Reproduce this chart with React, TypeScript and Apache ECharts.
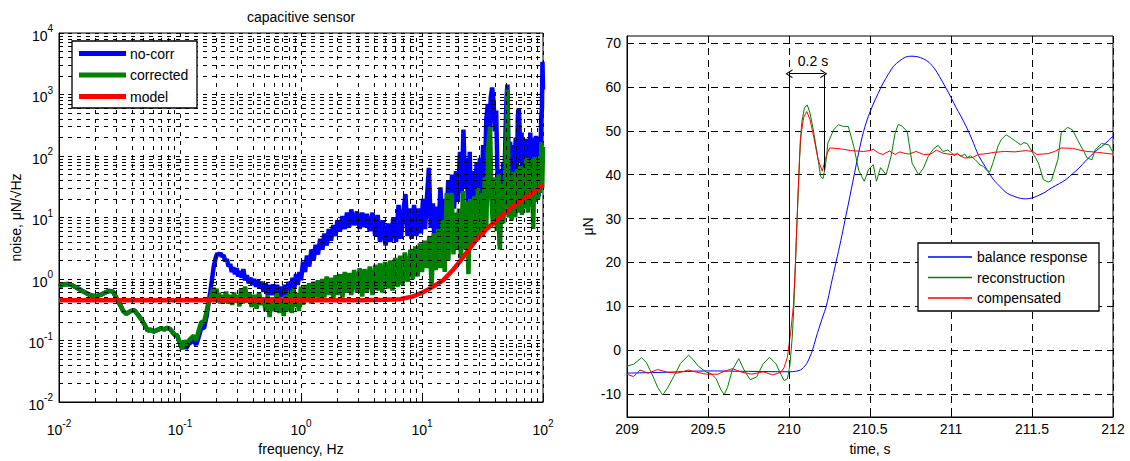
import React, { useEffect, useRef } from 'react';
import * as echarts from 'echarts';

const FONT = '"Liberation Sans", Arial, Helvetica, sans-serif';

// ---------------- Left chart: capacitive sensor noise spectrum ----------------
const leftTitle = 'capacitive sensor';
const leftSeriesNames = ['no-corr', 'corrected', 'model'];

// [frequency (Hz), noise (µN/√Hz)]
const noCorrData: [number, number][] = [
  [0.01, 0.76], [0.011, 0.82], [0.012, 0.83], [0.013, 0.78], [0.014, 0.72], [0.016, 0.62], [0.018, 0.55],
  [0.02, 0.52], [0.022, 0.55], [0.024, 0.6], [0.026, 0.64], [0.028, 0.62], [0.03, 0.48], [0.032, 0.38],
  [0.034, 0.3], [0.036, 0.27], [0.039, 0.3], [0.042, 0.31], [0.045, 0.26], [0.048, 0.22], [0.051, 0.18],
  [0.054, 0.145], [0.057, 0.15], [0.06, 0.14], [0.063, 0.145], [0.066, 0.15], [0.07, 0.16], [0.074, 0.15],
  [0.078, 0.16], [0.082, 0.155], [0.086, 0.14], [0.09, 0.125], [0.095, 0.12],
  [0.1, 0.088], [0.104, 0.075], [0.108, 0.092], [0.112, 0.074], [0.118, 0.088], [0.124, 0.095], [0.13, 0.1],
  [0.136, 0.085], [0.142, 0.11], [0.15, 0.16], [0.158, 0.16], [0.166, 0.25], [0.172, 0.4], [0.178, 0.62],
  [0.184, 1.0], [0.19, 1.6], [0.197, 2.2], [0.203, 2.6], [0.21, 2.45], [0.216, 2.65], [0.222, 2.3],
  [0.229, 2.45], [0.236, 1.95], [0.244, 2.1], [0.252, 1.6], [0.26, 1.75], [0.268, 1.3], [0.276, 1.55],
  [0.285, 1.2], [0.294, 1.5], [0.303, 1.1], [0.313, 1.35], [0.323, 1.05], [0.334, 1.45], [0.345, 0.95],
  [0.357, 1.15], [0.37, 0.85], [0.383, 1.05], [0.397, 0.8], [0.41, 1.0], [0.425, 0.75], [0.44, 0.95],
  [0.455, 0.7], [0.47, 0.9], [0.49, 0.62], [0.51, 0.85], [0.53, 0.56], [0.55, 0.8], [0.57, 0.55],
  [0.59, 0.82], [0.61, 0.55], [0.635, 0.8], [0.66, 0.5], [0.685, 0.75], [0.71, 0.52], [0.735, 0.8],
  [0.76, 0.55], [0.79, 0.9], [0.82, 0.6], [0.85, 1.05], [0.88, 0.7], [0.91, 1.2], [0.94, 0.8], [0.97, 1.3],
  [1.0, 0.95], [1.04, 1.9], [1.08, 1.3], [1.12, 2.4], [1.17, 1.6], [1.22, 3.0], [1.27, 2.0], [1.32, 3.6],
  [1.38, 2.5], [1.44, 4.5], [1.5, 3.0], [1.56, 5.5], [1.63, 3.5], [1.7, 6.5], [1.77, 4.2], [1.85, 7.5],
  [1.93, 5], [2.0, 9], [2.1, 6], [2.2, 10.5], [2.3, 6.5], [2.4, 12], [2.5, 7], [2.6, 13.5], [2.75, 7.5],
  [2.9, 12.5], [3.05, 6.5], [3.2, 12], [3.35, 7], [3.5, 11.5], [3.7, 6], [3.9, 12], [4.1, 5], [4.3, 11],
  [4.5, 4], [4.75, 9], [5.0, 3.5], [5.25, 8], [5.5, 4], [5.8, 10], [6.1, 4], [6.4, 16], [6.7, 4.5],
  [7.0, 12], [7.3, 24], [7.6, 5], [7.9, 14], [8.2, 4.5], [8.6, 16], [9.0, 5], [9.4, 14], [9.8, 5.5],
  [10.2, 20], [10.6, 6.5], [11.0, 22], [11.4, 64], [11.8, 7], [12.3, 17], [12.7, 3.6], [13.2, 15],
  [13.7, 6], [14.2, 31], [14.7, 8], [15.3, 20], [15.9, 10], [16.5, 40], [17.1, 12], [17.7, 50], [18.4, 14],
  [19.1, 57], [19.8, 18], [20.6, 117], [21.3, 25], [22, 270], [22.7, 30], [23.4, 93], [24.1, 10],
  [24.8, 117], [25.6, 6], [26.5, 57], [27.4, 12], [28.3, 80], [29.2, 15], [30.1, 93], [31, 20], [32, 150],
  [33, 40], [34, 400], [35, 700], [36, 200], [37, 900], [38, 1300], [39, 800], [40, 250], [41, 550],
  [42, 60], [43, 10], [44, 3.5], [45, 60], [46, 25], [47, 80], [48, 30], [49, 250], [50, 900], [50.8, 1450],
  [51.6, 200], [52.5, 50], [53.5, 170], [55, 30], [56.5, 150], [58, 40], [59.5, 200], [61, 60], [62, 450],
  [63, 600], [64, 300], [65, 80], [66.5, 240], [68, 30], [69.5, 160], [71, 25], [72.5, 190], [74, 20],
  [75.5, 180], [77, 30], [78.5, 240], [80, 20], [81.5, 200], [83, 25], [84.5, 150], [86, 18], [87.5, 213],
  [89, 30], [90.5, 180], [92, 22], [93.5, 200], [95, 40], [96.5, 400], [98, 600], [99, 3400], [100, 1200],
];

const correctedData: [number, number][] = [
  [0.01, 0.76], [0.011, 0.82], [0.012, 0.83], [0.013, 0.78], [0.014, 0.72], [0.016, 0.62], [0.018, 0.55],
  [0.02, 0.52], [0.022, 0.55], [0.024, 0.6], [0.026, 0.64], [0.028, 0.62], [0.03, 0.48], [0.032, 0.38],
  [0.034, 0.3], [0.036, 0.27], [0.039, 0.3], [0.042, 0.31], [0.045, 0.26], [0.048, 0.22], [0.051, 0.18],
  [0.054, 0.145], [0.057, 0.15], [0.06, 0.14], [0.063, 0.145], [0.066, 0.15], [0.07, 0.16], [0.074, 0.15],
  [0.078, 0.16], [0.082, 0.155], [0.086, 0.14], [0.09, 0.125], [0.095, 0.12], [0.1, 0.09],
  [0.104, 0.072], [0.108, 0.1], [0.112, 0.085], [0.118, 0.1], [0.124, 0.11], [0.13, 0.12], [0.136, 0.1],
  [0.142, 0.14], [0.15, 0.2], [0.158, 0.2], [0.166, 0.3], [0.172, 0.42], [0.178, 0.48], [0.184, 0.62],
  [0.19, 0.72], [0.196, 0.5], [0.2, 0.7], [0.205, 0.45], [0.21, 0.6], [0.215, 0.4], [0.22, 0.55],
  [0.23, 0.42], [0.24, 0.62], [0.25, 0.4], [0.26, 0.55], [0.27, 0.38], [0.28, 0.6], [0.29, 0.42],
  [0.3, 0.55], [0.31, 0.36], [0.32, 0.7], [0.33, 0.4], [0.345, 0.75], [0.36, 0.42], [0.375, 0.6],
  [0.39, 0.35], [0.41, 0.55], [0.43, 0.33], [0.45, 0.6], [0.47, 0.38], [0.49, 0.5], [0.51, 0.3],
  [0.53, 0.55], [0.55, 0.24], [0.57, 0.5], [0.6, 0.3], [0.63, 0.6], [0.66, 0.28], [0.69, 0.5], [0.72, 0.25],
  [0.75, 0.55], [0.78, 0.3], [0.81, 0.65], [0.84, 0.28], [0.87, 0.7], [0.9, 0.35], [0.93, 0.6], [0.96, 0.3],
  [1.0, 0.75], [1.04, 0.38], [1.08, 0.8], [1.12, 0.45], [1.17, 0.85], [1.22, 0.4], [1.27, 0.9], [1.32, 0.5],
  [1.38, 0.95], [1.44, 0.45], [1.5, 1.0], [1.56, 0.5], [1.63, 1.1], [1.7, 0.55], [1.77, 1.05], [1.85, 0.48],
  [1.93, 1.15], [2.0, 0.55], [2.1, 1.2], [2.2, 0.5], [2.3, 1.3], [2.4, 0.6], [2.5, 1.25], [2.6, 0.55],
  [2.75, 1.4], [2.9, 0.6], [3.05, 1.5], [3.2, 0.52], [3.35, 1.45], [3.5, 0.6], [3.7, 1.6], [3.9, 0.55],
  [4.1, 1.7], [4.3, 0.65], [4.5, 1.8], [4.7, 0.6], [4.95, 1.9], [5.2, 0.7], [5.45, 2.0], [5.7, 0.65],
  [6.0, 2.2], [6.3, 0.75], [6.6, 2.4], [6.9, 0.8], [7.2, 2.7], [7.6, 0.9], [8.0, 3.0], [8.4, 1.0],
  [8.8, 3.4], [9.2, 1.1], [9.6, 3.8], [10, 1.3], [10.5, 4.2], [11, 1.5], [11.5, 5], [12, 0.8], [12.5, 5.5],
  [13, 1.4], [13.6, 6.5], [14.2, 1.5], [14.8, 9], [15.4, 1.3], [16, 25], [16.5, 2], [17, 10], [17.6, 25],
  [18.2, 2.5], [18.8, 12], [19.5, 3], [20.2, 14], [21, 2.2], [21.8, 27], [22.6, 3], [23.4, 18], [24.2, 1.2],
  [25, 20], [26, 3.5], [27, 22], [28, 4], [29, 30], [30, 5], [31, 25], [32, 5], [33, 45], [34, 7], [35, 120],
  [36.5, 300], [37.5, 20], [38.5, 8], [40, 45], [41.5, 6], [43, 50], [44, 3.0], [45.5, 35], [47, 8],
  [48.5, 40], [50, 200], [51, 1200], [52, 10], [53.5, 45], [55, 9], [57, 55], [59, 10], [61, 60], [63, 12],
  [65, 70], [67, 11], [69, 65], [71, 14], [73, 93], [75, 12], [77, 80], [79, 15], [81, 90], [83, 6.5],
  [85, 95], [87, 18], [89, 80], [91, 20], [93, 100], [95, 25], [97, 167], [98.5, 30], [100, 140],
];

const modelData: [number, number][] = [
  [0.01, 0.45], [0.1, 0.45], [1, 0.45], [3, 0.452], [5, 0.46], [6.6, 0.47], [8.4, 0.52], [10, 0.6],
  [11, 0.66], [13, 0.8], [15, 0.96], [18, 1.4], [20, 1.8], [23.4, 2.7], [28, 4.3], [34, 6.4], [40, 8.5],
  [48, 11.5], [56, 15], [65, 18.5], [75, 22], [82, 25], [90, 29], [100, 35],
];

// minor grid positions of the log axes (mantissas 2..9 of each decade)
const minorMantissas = [2, 3, 4, 5, 6, 7, 8, 9];
const xDecadeStarts = [0.01, 0.1, 1, 10];
const yDecadeStarts = [0.01, 0.1, 1, 10, 100, 1000];

// ---------------- Right chart: step response ----------------
const rightSeriesNames = ['balance response', 'reconstruction', 'compensated'];
const rightYTicks = [-10, 0, 10, 20, 30, 40, 50, 60, 70];

// [time (s), force (µN)]
const balanceData: [number, number][] = [
  [209.0, -5.2], [209.25, -5.0], [209.5, -4.7], [209.75, -4.8], [210.0, -4.9], [210.04, -4.8], [210.07, -4.5],
  [210.09, -3.9], [210.11, -3.0], [210.13, -1.4], [210.145, 0], [210.165, 2.6], [210.185, 5.0], [210.21, 7.8],
  [210.23, 10], [210.26, 15], [210.29, 20], [210.32, 25], [210.345, 29.5], [210.37, 34], [210.4, 39.5],
  [210.43, 45], [210.46, 49.8], [210.49, 53.3], [210.52, 56.1], [210.55, 58.5], [210.58, 60.8], [210.615, 63],
  [210.645, 64.7], [210.685, 66.0], [210.72, 66.8], [210.753, 67.0], [210.79, 66.9], [210.83, 66.4],
  [210.864, 65.6], [210.9, 64.1], [210.93, 62.3], [210.965, 60.0], [211.0, 57.6], [211.03, 55.4],
  [211.06, 53.4], [211.1, 50.5], [211.13, 48.0], [211.17, 44.4], [211.21, 41.9], [211.26, 39.0],
  [211.31, 37.0], [211.35, 35.7], [211.395, 35.0], [211.43, 34.6], [211.46, 34.5], [211.5, 34.7],
  [211.53, 35.1], [211.58, 36.0], [211.62, 37.0], [211.67, 38.0], [211.71, 38.9], [211.75, 40.2],
  [211.79, 41.5], [211.83, 43.1], [211.86, 44.2], [211.9, 45.6], [211.93, 46.4], [211.97, 47.7], [212.0, 48.8],
];

const reconstructionData: [number, number][] = [
  [209.0, -3.6], [209.04, -3.2], [209.09, -1.7], [209.12, -2.8], [209.16, -5.9], [209.19, -8.5], [209.22, -10.2],
  [209.25, -8.6], [209.29, -5.9], [209.33, -3.0], [209.38, -1.1], [209.41, -2.2], [209.44, -3.6], [209.49, -5.0],
  [209.52, -5.3], [209.55, -6.5], [209.58, -9.0], [209.6, -10.1], [209.62, -8.5], [209.65, -4.5], [209.69, -1.9],
  [209.72, -4.3], [209.76, -6.7], [209.8, -6.1], [209.84, -3.1], [209.88, -1.6], [209.92, -3.1], [209.95, -5.5],
  [209.97, -6.9], [209.99, -6.5], [210.005, -3.6], [210.02, 3], [210.03, 10], [210.045, 25], [210.065, 43.4],
  [210.078, 51.7], [210.095, 55.2], [210.113, 55.9], [210.13, 54], [210.15, 50.2], [210.18, 43.4],
  [210.195, 39.6], [210.21, 39.1], [210.225, 42], [210.24, 47.2], [210.275, 50.2], [210.305, 51.4],
  [210.335, 51.0], [210.366, 51.0], [210.4, 46.4], [210.43, 41.0], [210.45, 39.5], [210.465, 38.5],
  [210.49, 41.1], [210.52, 42.3], [210.54, 38.5], [210.565, 41.6], [210.6, 40.0], [210.63, 44.2],
  [210.655, 49.5], [210.675, 51.5], [210.7, 51.0], [210.73, 49.8], [210.76, 42.6], [210.8, 40.0],
  [210.83, 41.5], [210.86, 44.2], [210.89, 45.8], [210.92, 46.7], [210.95, 45.3], [210.98, 45.6],
  [211.0, 45.1], [211.02, 44.3], [211.04, 44.9], [211.06, 44.2], [211.085, 44.7], [211.1, 43.9],
  [211.12, 44.3], [211.15, 43.4], [211.18, 42.2], [211.2, 41.9], [211.22, 41.0], [211.24, 40.7],
  [211.26, 42.8], [211.29, 46.5], [211.31, 48.0], [211.34, 49.1], [211.37, 48.4], [211.4, 47.6],
  [211.43, 46.8], [211.45, 47.3], [211.47, 47.1], [211.5, 45.3], [211.54, 42.6], [211.57, 38.9],
  [211.6, 38.3], [211.62, 38.7], [211.64, 41.1], [211.66, 43.5], [211.68, 49.5], [211.72, 50.8],
  [211.75, 50.2], [211.78, 48.0], [211.82, 45.3], [211.84, 43.8], [211.87, 43.4], [211.89, 45.7],
  [211.93, 47.1], [211.975, 46.8], [212.0, 45.0],
];

const compensatedData: [number, number][] = [
  [209.0, -5.45], [209.04, -6.0], [209.08, -4.5], [209.13, -5.2], [209.19, -4.4], [209.25, -5.0], [209.31, -5.2],
  [209.38, -4.5], [209.43, -5.0], [209.49, -5.45], [209.56, -5.45], [209.6, -4.8], [209.65, -4.2], [209.71, -5.0],
  [209.77, -5.45], [209.84, -4.9], [209.9, -5.6], [209.95, -5.0], [209.97, -3.9], [209.99, -1.6], [210.01, 4],
  [210.027, 10], [210.04, 20], [210.055, 35], [210.07, 48], [210.09, 53], [210.11, 54.4], [210.13, 52.5],
  [210.15, 49.1], [210.18, 43.4], [210.205, 40.8], [210.23, 44.2], [210.25, 46.1], [210.29, 46.0],
  [210.335, 45.8], [210.38, 45.5], [210.42, 45.4], [210.46, 45.3], [210.5, 45.5], [210.52, 45.8],
  [210.55, 45.0], [210.58, 44.6], [210.62, 45.4], [210.655, 44.6], [210.685, 45.2], [210.71, 44.9],
  [210.74, 44.7], [210.785, 45.3], [210.83, 44.6], [210.875, 44.7], [210.91, 45.6], [210.95, 44.9],
  [211.0, 44.6], [211.04, 44.7], [211.085, 43.8], [211.13, 43.9], [211.17, 44.6], [211.22, 44.8],
  [211.27, 45.1], [211.33, 45.3], [211.395, 45.2], [211.46, 45.5], [211.505, 45.3], [211.53, 44.6],
  [211.6, 44.8], [211.64, 45.3], [211.68, 46.1], [211.75, 46.0], [211.795, 45.6], [211.84, 45.3],
  [211.905, 45.1], [211.97, 44.8], [212.0, 44.7],
];

// delay annotation: start/end time, arrow level, bottom ends of the two vertical marks, label anchor
const delayStart = 210.0;
const delayEnd = 210.215;
const delayArrowLevel = 63;
const delayStartBottom = 0;
const delayEndBottom = 41;
const delayLabel = '0.2 s';
const delayLabelAt: [number, number] = [210.148, 65.8];

const BLUE = '#0000ff';
const GREEN = '#008000';
const RED = '#ff0000';
const leftColors = [BLUE, GREEN, RED];
const rightColors = [BLUE, GREEN, RED];

const supLabel = (v: number) => `{b|10}{s|${Math.round(Math.log10(v))}}`;
const supRich = {
  b: { fontSize: 14, fontFamily: FONT, color: '#000', lineHeight: 19, verticalAlign: 'bottom' },
  s: { fontSize: 10, fontFamily: FONT, color: '#000', lineHeight: 11, verticalAlign: 'top' },
};

const gridDashLeft = { color: '#000', width: 1, type: [4, 5] };
const gridDashRight = { color: '#000', width: 1, type: [7, 5] };
const OPEN_ARROW = 'path://M0,10 L5,0 L10,10 L8.6,10 L5,2.6 L1.4,10 Z';

// legend box (graphic component): white box, sample bars, labels
function legendElements(
  names: string[], colors: string[], box: { x: number; y: number; w: number; h: number },
  rows: number[], lineX: [number, number], textX: number, barH: number,
) {
  const els: any[] = [
    {
      type: 'rect', z: 100, silent: true,
      shape: { x: box.x, y: box.y, width: box.w, height: box.h },
      style: { fill: '#fff', stroke: '#000', lineWidth: 1.3 },
    },
  ];
  names.forEach((n, i) => {
    els.push({
      type: 'rect', z: 101, silent: true,
      shape: { x: lineX[0], y: rows[i] - barH / 2, width: lineX[1] - lineX[0], height: barH },
      style: { fill: colors[i], stroke: 'none', lineWidth: 0 },
    });
  });
  names.forEach((n, i) => {
    els.push({
      type: 'text', z: 102, silent: true, x: textX, y: rows[i],
      style: { text: n, fill: '#000', stroke: 'none', lineWidth: 0, font: `14px ${FONT}`, align: 'left', verticalAlign: 'middle' },
    });
  });
  return els;
}

export default function App() {
  const ref = useRef<HTMLDivElement>(null);

  useEffect(() => {
    document.body.style.margin = '0';
    if (!ref.current) return;
    const chart = echarts.init(ref.current, undefined, { renderer: 'svg' });

    const minorX: number[] = [];
    xDecadeStarts.forEach((d) => minorMantissas.forEach((m) => minorX.push(+(d * m).toPrecision(3))));
    const minorY: number[] = [];
    yDecadeStarts.forEach((d) => minorMantissas.forEach((m) => minorY.push(+(d * m).toPrecision(3))));

    const axisLineBlack = { show: true, onZero: false, lineStyle: { color: '#000', width: 1 } };
    const tickInside = { show: true, inside: true, length: 5, lineStyle: { color: '#000' } };
    const nameStyle = { fontSize: 14, fontFamily: FONT, color: '#000' };
    const labelStyle = { fontSize: 14, fontFamily: FONT, color: '#000' };

    const option: any = {
      animation: false,
      backgroundColor: '#fff',
      textStyle: { fontFamily: FONT },
      graphic: [
        {
          type: 'text',
          x: 301,
          y: 17,
          style: { text: leftTitle, fill: '#000', font: `14px ${FONT}`, align: 'center', verticalAlign: 'middle' },
        },
        ...legendElements(leftSeriesNames, leftColors, { x: 72, y: 41, w: 125, h: 67 }, [53.5, 75, 96.5], [79, 126], 130, 5),
        ...legendElements(rightSeriesNames, rightColors, { x: 918, y: 243, w: 181, h: 68 }, [257, 277.5, 298], [928, 972], 977, 1.5),
      ],
      grid: [
        { left: 59, top: 33, width: 484, height: 385, show: true, borderColor: '#000', borderWidth: 1, backgroundColor: 'transparent' },
        { left: 627, top: 36, width: 486, height: 382, show: true, borderColor: '#000', borderWidth: 1, backgroundColor: 'transparent' },
      ],
      xAxis: [
        {
          type: 'log',
          logBase: 10,
          gridIndex: 0,
          min: 0.01,
          max: 100,
          splitNumber: 4,
          axisLine: axisLineBlack,
          axisTick: tickInside,
          axisLabel: { formatter: supLabel, rich: supRich, margin: 16 },
          splitLine: { show: true, lineStyle: gridDashLeft },
          name: 'frequency, Hz',
          nameLocation: 'middle',
          nameGap: 40,
          nameTextStyle: nameStyle,
        },
        {
          type: 'value',
          gridIndex: 1,
          min: 209,
          max: 212,
          interval: 0.5,
          axisLine: axisLineBlack,
          axisTick: tickInside,
          axisLabel: { ...labelStyle, margin: 5 },
          splitLine: { show: true, lineStyle: gridDashRight },
          name: 'time, s',
          nameLocation: 'middle',
          nameGap: 25,
          nameTextStyle: nameStyle,
        },
      ],
      yAxis: [
        {
          type: 'log',
          logBase: 10,
          gridIndex: 0,
          min: 0.01,
          max: 10000,
          splitNumber: 6,
          axisLine: axisLineBlack,
          axisTick: tickInside,
          axisLabel: { formatter: supLabel, rich: supRich, margin: 6 },
          splitLine: { show: true, lineStyle: gridDashLeft },
          name: 'noise, μN/√Hz',
          nameLocation: 'middle',
          nameGap: 36,
          nameTextStyle: nameStyle,
        },
        {
          type: 'value',
          gridIndex: 1,
          min: -15.2,
          max: 71.6,
          axisLine: axisLineBlack,
          axisTick: { ...tickInside, customValues: rightYTicks },
          axisLabel: { ...labelStyle, margin: 6, customValues: rightYTicks },
          splitLine: { show: true, lineStyle: gridDashRight },
          name: 'μN',
          nameLocation: 'middle',
          nameGap: 32,
          nameTextStyle: nameStyle,
        },
      ],
      series: [
        {
          name: '_minorGrid',
          type: 'line',
          xAxisIndex: 0,
          yAxisIndex: 0,
          data: [],
          silent: true,
          z: 1,
          markLine: {
            silent: true,
            symbol: 'none',
            label: { show: false },
            lineStyle: gridDashLeft,
            data: [...minorX.map((v) => ({ xAxis: v })), ...minorY.map((v) => ({ yAxis: v }))],
          },
        },
        {
          name: leftSeriesNames[0], type: 'line', xAxisIndex: 0, yAxisIndex: 0, data: noCorrData,
          symbol: 'none', showSymbol: false, lineStyle: { color: BLUE, width: 4.5 }, itemStyle: { color: BLUE }, z: 2,
        },
        {
          name: leftSeriesNames[1], type: 'line', xAxisIndex: 0, yAxisIndex: 0, data: correctedData,
          symbol: 'none', showSymbol: false, lineStyle: { color: GREEN, width: 4.5 }, itemStyle: { color: GREEN }, z: 3,
        },
        {
          name: leftSeriesNames[2], type: 'line', xAxisIndex: 0, yAxisIndex: 0, data: modelData,
          symbol: 'none', showSymbol: false, lineStyle: { color: RED, width: 4.5 }, itemStyle: { color: RED }, z: 4,
        },
        {
          name: rightSeriesNames[0], type: 'line', xAxisIndex: 1, yAxisIndex: 1, data: balanceData, smooth: 0.3,
          symbol: 'none', showSymbol: false, lineStyle: { color: BLUE, width: 1 }, itemStyle: { color: BLUE }, z: 2,
        },
        {
          name: rightSeriesNames[1], type: 'line', xAxisIndex: 1, yAxisIndex: 1, data: reconstructionData,
          symbol: 'none', showSymbol: false, lineStyle: { color: GREEN, width: 1 }, itemStyle: { color: GREEN }, z: 3,
        },
        {
          name: rightSeriesNames[2], type: 'line', xAxisIndex: 1, yAxisIndex: 1, data: compensatedData,
          symbol: 'none', showSymbol: false, lineStyle: { color: RED, width: 1 }, itemStyle: { color: RED }, z: 4,
        },
        {
          name: '_delay',
          type: 'line',
          xAxisIndex: 1,
          yAxisIndex: 1,
          data: [],
          silent: true,
          z: 5,
          markLine: {
            silent: true,
            symbol: 'none',
            lineStyle: { color: '#000', width: 1, type: 'solid' },
            label: { show: false },
            data: [
              [
                { coord: [delayStart, delayArrowLevel], symbol: OPEN_ARROW, symbolSize: [9, 7] },
                { coord: [delayEnd, delayArrowLevel], symbol: OPEN_ARROW, symbolSize: [9, 7] },
              ],
              [{ coord: [delayStart, delayArrowLevel] }, { coord: [delayStart, delayStartBottom] }],
              [{ coord: [delayEnd, delayArrowLevel] }, { coord: [delayEnd, delayEndBottom] }],
            ],
          },
          markPoint: {
            silent: true,
            symbol: 'circle',
            symbolSize: 0,
            label: { show: true, formatter: delayLabel, color: '#000', fontSize: 14, fontFamily: FONT, position: 'inside' },
            data: [{ coord: delayLabelAt }],
          },
        },
      ],
    };

    chart.setOption(option);
    return () => chart.dispose();
  }, []);

  return <div ref={ref} style={{ width: 1130, height: 461 }} />;
}
